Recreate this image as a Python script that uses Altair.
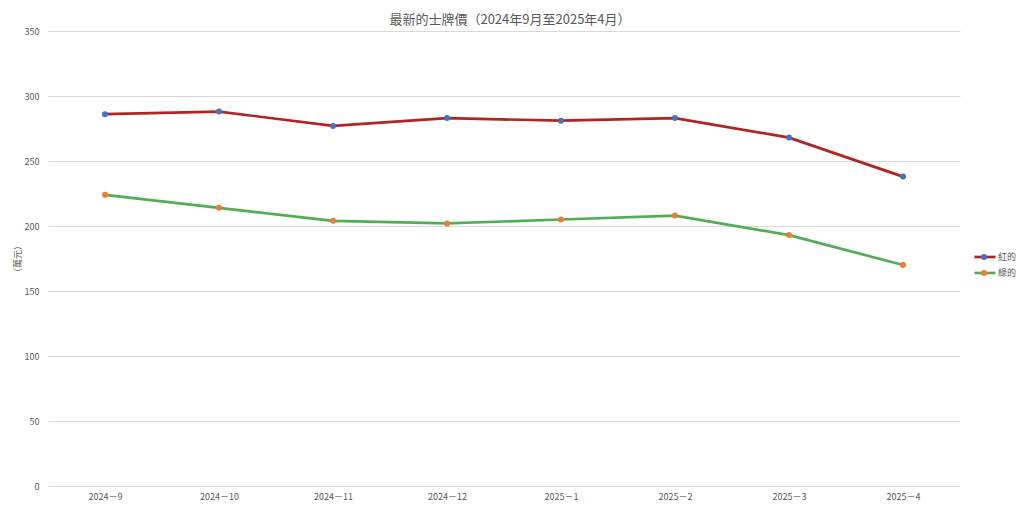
import altair as alt
import pandas as pd

months = ["2024－9", "2024－10", "2024－11", "2024－12", "2025－1", "2025－2", "2025－3", "2025－4"]
red_vals = [286, 288, 277, 283, 281, 283, 268, 238]
green_vals = [224, 214, 204, 202, 205, 208, 193, 170]
series_names = ["紅的", "綠的"]
line_colors = ["#B3241E", "#52AE55"]
dot_colors = ["#4472C4", "#ED7D31"]
y_ticks = [0, 50, 100, 150, 200, 250, 300, 350]

rows = []
for m, v in zip(months, red_vals):
    rows.append({"month": m, "value": v, "series": series_names[0]})
for m, v in zip(months, green_vals):
    rows.append({"month": m, "value": v, "series": series_names[1]})
df = pd.DataFrame(rows)

FONT = "Noto Sans CJK TC"
GRAY = "#595959"

x_enc = alt.X("month:N", sort=months,
              scale=alt.Scale(type="point", padding=0.5),
              axis=alt.Axis(title=None, labelAngle=0, domain=False, ticks=False, grid=False,
                            labelFontSize=9, labelColor=GRAY, labelPadding=6, labelFont=FONT))
y_enc = alt.Y("value:Q", scale=alt.Scale(domain=[0, 350], nice=False),
              axis=alt.Axis(title="（萬元）", values=y_ticks, domain=False, ticks=False,
                            gridColor="#D9D9D9", gridWidth=1,
                            labelFontSize=9, labelColor=GRAY, labelPadding=9, labelFont=FONT,
                            titleFontSize=9, titleColor=GRAY, titleFontWeight="normal",
                            titleFont=FONT, titleX=-31, titleY=227.5, titleAngle=270,
                            titleBaseline="middle", titleAlign="center"))

lines = alt.Chart(df).mark_line(strokeWidth=2.7).encode(
    x=x_enc, y=y_enc,
    stroke=alt.Stroke("series:N",
                      scale=alt.Scale(domain=series_names, range=line_colors),
                      legend=alt.Legend(title=None, orient="none", legendX=925, legendY=218,
                                        symbolType="stroke", symbolSize=441, symbolStrokeWidth=2.7,
                                        clipHeight=16, rowPadding=0, padding=0, offset=0,
                                        labelFontSize=9, labelColor=GRAY, labelFont=FONT,
                                        labelOffset=1)),
)

points = alt.Chart(df).transform_calculate(
    pt="datum.series + '.'"
).mark_point(filled=True, size=36, opacity=1).encode(
    x=x_enc, y=y_enc,
    fill=alt.Fill("pt:N",
                  scale=alt.Scale(domain=[s + "." for s in series_names], range=dot_colors),
                  legend=alt.Legend(title=None, orient="none", legendX=933, legendY=218,
                                    symbolType="circle", symbolSize=36, symbolStrokeWidth=0,
                                    clipHeight=16, rowPadding=0, padding=0, offset=0,
                                    labelExpr="''", labelFontSize=1)),
)

chart = alt.layer(lines, points).properties(
    width=912, height=455,
    title=alt.TitleParams("最新的士牌價（2024年9月至2025年4月）", fontSize=13, color=GRAY,
                          font=FONT, fontWeight="normal", anchor="middle", offset=0, dx=6),
    autosize=alt.AutoSizeParams(type="none"),
    padding={"left": 40, "top": 23, "right": 56, "bottom": 16},
).configure_view(stroke=None)

chart.save("out.html", embed_options={"renderer": "svg", "actions": False})
